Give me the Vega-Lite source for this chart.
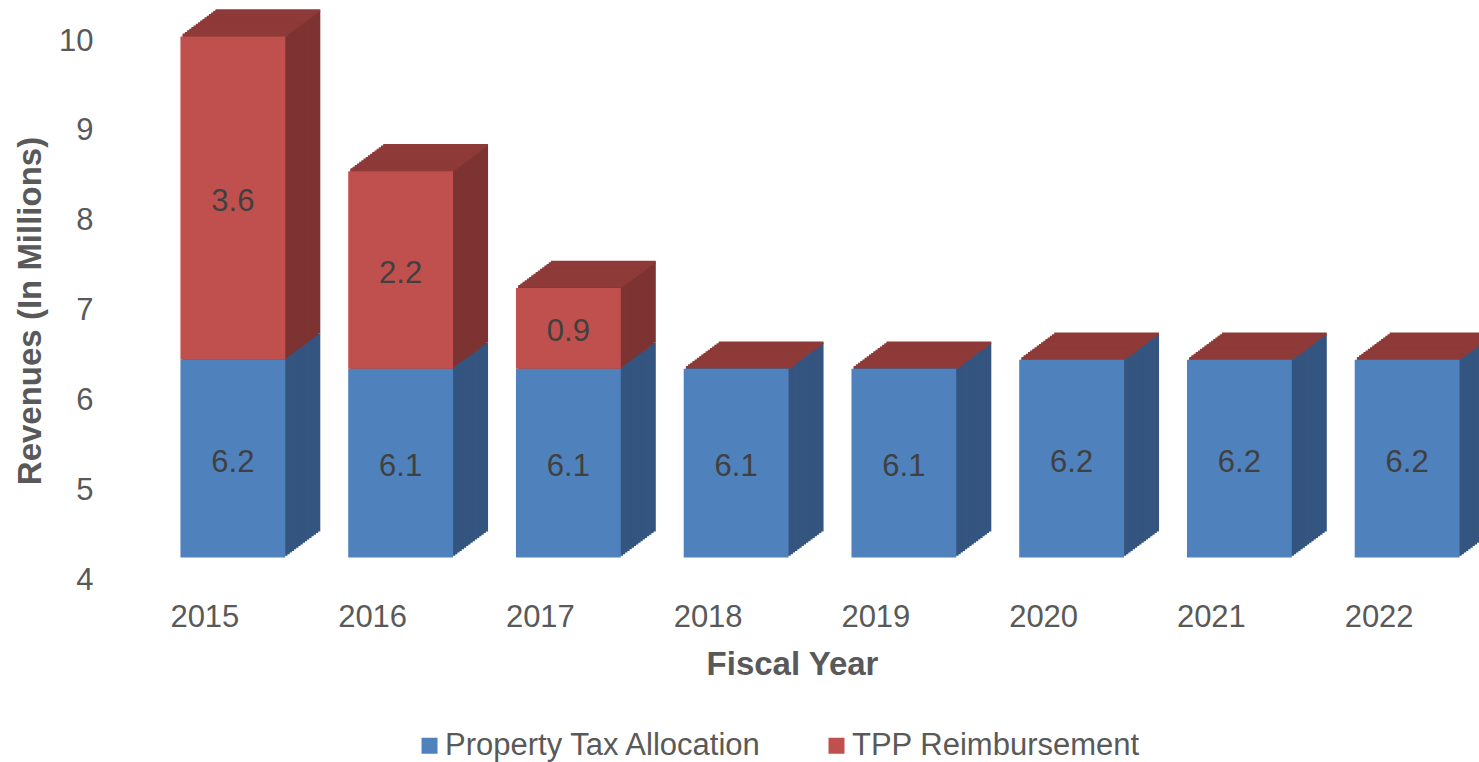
{
  "$schema": "https://vega.github.io/schema/vega-lite/v6.json",
  "width": 1342,
  "height": 539,
  "autosize": {"type": "none"},
  "padding": {"left": 121, "top": 41, "right": 16, "bottom": 182},
  "background": "white",
  "data": {
    "values": [
      {"year": "2015", "series": "Property Tax Allocation", "value": 6.2},
      {"year": "2015", "series": "TPP Reimbursement", "value": 3.6},
      {"year": "2016", "series": "Property Tax Allocation", "value": 6.1},
      {"year": "2016", "series": "TPP Reimbursement", "value": 2.2},
      {"year": "2017", "series": "Property Tax Allocation", "value": 6.1},
      {"year": "2017", "series": "TPP Reimbursement", "value": 0.9},
      {"year": "2018", "series": "Property Tax Allocation", "value": 6.1},
      {"year": "2018", "series": "TPP Reimbursement", "value": 0},
      {"year": "2019", "series": "Property Tax Allocation", "value": 6.1},
      {"year": "2019", "series": "TPP Reimbursement", "value": 0},
      {"year": "2020", "series": "Property Tax Allocation", "value": 6.2},
      {"year": "2020", "series": "TPP Reimbursement", "value": 0},
      {"year": "2021", "series": "Property Tax Allocation", "value": 6.2},
      {"year": "2021", "series": "TPP Reimbursement", "value": 0},
      {"year": "2022", "series": "Property Tax Allocation", "value": 6.2},
      {"year": "2022", "series": "TPP Reimbursement", "value": 0}
    ]
  },
  "layer": [
    {
      "layer": [
        {
          "encoding": {
            "x": {"field": "year", "type": "nominal", "title": "Fiscal Year"},
            "y": {"field": "value", "type": "quantitative", "stack": "zero", "title": "Revenues (In Millions)", "axis": {"values": [4, 5, 6, 7, 8, 9, 10], "format": "d"}, "scale": {"domain": [4, 10], "clamp": true, "nice": false, "zero": false}},
            "order": {"field": "series", "type": "nominal", "sort": "ascending"},
            "color": {"field": "series", "type": "nominal", "legend": null, "scale": {"domain": ["Property Tax Allocation", "TPP Reimbursement"], "range": ["#34557f", "#7d3331"]}}
          },
          "layer": [
            {"mark": {"type": "bar", "opacity": 1, "xOffset": 63, "x2Offset": 63, "yOffset": -48.5, "y2Offset": -48.5}},
            {"mark": {"type": "bar", "opacity": 1, "xOffset": 60.81, "x2Offset": 60.81, "yOffset": -46.88, "y2Offset": -46.88}},
            {"mark": {"type": "bar", "opacity": 1, "xOffset": 58.63, "x2Offset": 58.63, "yOffset": -45.25, "y2Offset": -45.25}},
            {"mark": {"type": "bar", "opacity": 1, "xOffset": 56.44, "x2Offset": 56.44, "yOffset": -43.63, "y2Offset": -43.63}},
            {"mark": {"type": "bar", "opacity": 1, "xOffset": 54.25, "x2Offset": 54.25, "yOffset": -42, "y2Offset": -42}},
            {"mark": {"type": "bar", "opacity": 1, "xOffset": 52.06, "x2Offset": 52.06, "yOffset": -40.38, "y2Offset": -40.38}},
            {"mark": {"type": "bar", "opacity": 1, "xOffset": 49.88, "x2Offset": 49.88, "yOffset": -38.75, "y2Offset": -38.75}},
            {"mark": {"type": "bar", "opacity": 1, "xOffset": 47.69, "x2Offset": 47.69, "yOffset": -37.13, "y2Offset": -37.13}},
            {"mark": {"type": "bar", "opacity": 1, "xOffset": 45.5, "x2Offset": 45.5, "yOffset": -35.5, "y2Offset": -35.5}},
            {"mark": {"type": "bar", "opacity": 1, "xOffset": 43.31, "x2Offset": 43.31, "yOffset": -33.88, "y2Offset": -33.88}},
            {"mark": {"type": "bar", "opacity": 1, "xOffset": 41.13, "x2Offset": 41.13, "yOffset": -32.25, "y2Offset": -32.25}},
            {"mark": {"type": "bar", "opacity": 1, "xOffset": 38.94, "x2Offset": 38.94, "yOffset": -30.63, "y2Offset": -30.63}},
            {"mark": {"type": "bar", "opacity": 1, "xOffset": 36.75, "x2Offset": 36.75, "yOffset": -29, "y2Offset": -29}},
            {"mark": {"type": "bar", "opacity": 1, "xOffset": 34.56, "x2Offset": 34.56, "yOffset": -27.38, "y2Offset": -27.38}},
            {"mark": {"type": "bar", "opacity": 1, "xOffset": 32.38, "x2Offset": 32.38, "yOffset": -25.75, "y2Offset": -25.75}},
            {"mark": {"type": "bar", "opacity": 1, "xOffset": 30.19, "x2Offset": 30.19, "yOffset": -24.13, "y2Offset": -24.13}}
          ]
        },
        {
          "encoding": {
            "x": {"field": "year", "type": "nominal", "title": "Fiscal Year"},
            "y": {"field": "value", "type": "quantitative", "aggregate": "sum", "title": "Revenues (In Millions)", "axis": {"values": [4, 5, 6, 7, 8, 9, 10], "format": "d"}, "scale": {"domain": [4, 10], "clamp": true, "nice": false, "zero": false}}
          },
          "layer": [
            {"mark": {"type": "tick", "opacity": 1, "color": "#8e3a38", "size": 104.8, "thickness": 2.6, "xOffset": 63, "yOffset": -48.5}},
            {"mark": {"type": "tick", "opacity": 1, "color": "#8e3a38", "size": 104.8, "thickness": 2.6, "xOffset": 60.81, "yOffset": -46.88}},
            {"mark": {"type": "tick", "opacity": 1, "color": "#8e3a38", "size": 104.8, "thickness": 2.6, "xOffset": 58.63, "yOffset": -45.25}},
            {"mark": {"type": "tick", "opacity": 1, "color": "#8e3a38", "size": 104.8, "thickness": 2.6, "xOffset": 56.44, "yOffset": -43.63}},
            {"mark": {"type": "tick", "opacity": 1, "color": "#8e3a38", "size": 104.8, "thickness": 2.6, "xOffset": 54.25, "yOffset": -42}},
            {"mark": {"type": "tick", "opacity": 1, "color": "#8e3a38", "size": 104.8, "thickness": 2.6, "xOffset": 52.06, "yOffset": -40.38}},
            {"mark": {"type": "tick", "opacity": 1, "color": "#8e3a38", "size": 104.8, "thickness": 2.6, "xOffset": 49.88, "yOffset": -38.75}},
            {"mark": {"type": "tick", "opacity": 1, "color": "#8e3a38", "size": 104.8, "thickness": 2.6, "xOffset": 47.69, "yOffset": -37.13}},
            {"mark": {"type": "tick", "opacity": 1, "color": "#8e3a38", "size": 104.8, "thickness": 2.6, "xOffset": 45.5, "yOffset": -35.5}},
            {"mark": {"type": "tick", "opacity": 1, "color": "#8e3a38", "size": 104.8, "thickness": 2.6, "xOffset": 43.31, "yOffset": -33.88}},
            {"mark": {"type": "tick", "opacity": 1, "color": "#8e3a38", "size": 104.8, "thickness": 2.6, "xOffset": 41.13, "yOffset": -32.25}},
            {"mark": {"type": "tick", "opacity": 1, "color": "#8e3a38", "size": 104.8, "thickness": 2.6, "xOffset": 38.94, "yOffset": -30.63}},
            {"mark": {"type": "tick", "opacity": 1, "color": "#8e3a38", "size": 104.8, "thickness": 2.6, "xOffset": 36.75, "yOffset": -29}},
            {"mark": {"type": "tick", "opacity": 1, "color": "#8e3a38", "size": 104.8, "thickness": 2.6, "xOffset": 34.56, "yOffset": -27.38}},
            {"mark": {"type": "tick", "opacity": 1, "color": "#8e3a38", "size": 104.8, "thickness": 2.6, "xOffset": 32.38, "yOffset": -25.75}},
            {"mark": {"type": "tick", "opacity": 1, "color": "#8e3a38", "size": 104.8, "thickness": 2.6, "xOffset": 30.19, "yOffset": -24.13}}
          ]
        },
        {
          "mark": {"type": "bar", "opacity": 1, "xOffset": 28, "x2Offset": 28, "yOffset": -22.5, "y2Offset": -22.5},
          "encoding": {
            "x": {"field": "year", "type": "nominal", "title": "Fiscal Year"},
            "y": {"field": "value", "type": "quantitative", "stack": "zero", "title": "Revenues (In Millions)", "axis": {"values": [4, 5, 6, 7, 8, 9, 10], "format": "d"}, "scale": {"domain": [4, 10], "clamp": true, "nice": false, "zero": false}},
            "order": {"field": "series", "type": "nominal", "sort": "ascending"},
            "color": {
              "field": "series", "type": "nominal",
              "scale": {"domain": ["Property Tax Allocation", "TPP Reimbursement"], "range": ["#4f81bd", "#c0504d"]},
              "legend": {
                "orient": "none", "legendX": 293, "legendY": 689, "direction": "horizontal", "title": null,
                "symbolType": "square", "symbolSize": 256, "symbolStrokeWidth": 0, "symbolOpacity": 1,
                "labelFontSize": 31, "labelColor": "#595959", "labelLimit": 600, "labelOffset": 0,
                "columnPadding": 58, "padding": 0
              }
            }
          }
        },
        {
          "transform": [
            {"stack": "value", "groupby": ["year"], "sort": [{"field": "series", "order": "ascending"}], "as": ["v0", "v1"]},
            {"filter": "datum.series === 'TPP Reimbursement' && datum.value > 0"},
            {"fold": ["v0", "v1"], "as": ["k", "kv"]},
            {"aggregate": [{"op": "mean", "field": "kv", "as": "mid"}, {"op": "max", "field": "value", "as": "lab"}], "groupby": ["year"]}
          ],
          "mark": {"type": "text", "fontSize": 31, "color": "#404040", "align": "center", "baseline": "middle", "dx": 28, "dy": -18.5},
          "encoding": {
            "x": {"field": "year", "type": "nominal", "title": "Fiscal Year"},
            "y": {"field": "mid", "type": "quantitative", "title": "Revenues (In Millions)", "axis": {"values": [4, 5, 6, 7, 8, 9, 10], "format": "d"}, "scale": {"domain": [4, 10], "clamp": true, "nice": false, "zero": false}},
            "text": {"field": "lab", "type": "quantitative", "format": ".1f"}
          }
        }
      ],
      "resolve": {"scale": {"color": "independent"}}
    },
    {
      "transform": [{"filter": "datum.series === 'Property Tax Allocation'"}],
      "mark": {"type": "text", "fontSize": 31, "color": "#404040", "align": "center", "baseline": "middle", "dx": 28, "dy": -18.5},
      "encoding": {
        "x": {"field": "year", "type": "nominal", "title": "Fiscal Year"},
        "y": {"field": "value", "type": "quantitative", "axis": null, "scale": {"domain": [4, 16], "nice": false, "zero": false}},
        "text": {"field": "value", "type": "quantitative", "format": ".1f"}
      }
    }
  ],
  "resolve": {"scale": {"y": "independent"}},
  "config": {
    "font": "Liberation Sans",
    "view": {"stroke": null},
    "scale": {"bandPaddingInner": 0.375, "bandPaddingOuter": 0.1875},
    "axis": {"domain": false, "ticks": false, "grid": false, "labelColor": "#595959", "titleColor": "#595959", "labelFontSize": 31, "titleFontSize": 33, "titleFontWeight": "bold", "labelFont": "Liberation Sans", "titleFont": "Liberation Sans"},
    "axisX": {"labelAngle": 0, "labelPadding": 22, "titlePadding": 16},
    "axisY": {"labelPadding": 28, "titlePadding": 11},
    "legend": {"labelFont": "Liberation Sans"},
    "text": {"font": "Liberation Sans"}
  }
}
